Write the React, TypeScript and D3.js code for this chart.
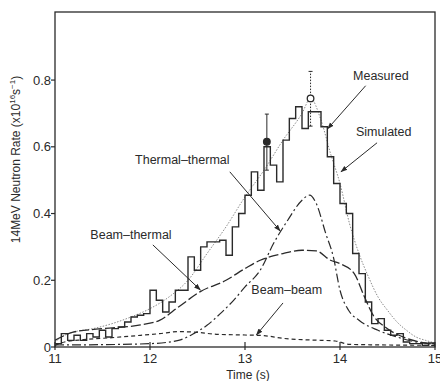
import React from "react";
import * as d3 from "d3";

// ---------- data ----------
const binWidth = 1 / 15;
const measuredValues = [
  0.01, 0.04, 0.02, 0.035, 0.02, 0.04, 0.03, 0.05, 0.03, 0.055,
  0.06, 0.075, 0.09, 0.095, 0.1, 0.17, 0.14, 0.105, 0.135, 0.17,
  0.17, 0.27, 0.23, 0.3, 0.315, 0.315, 0.32, 0.275, 0.36, 0.4,
  0.455, 0.525, 0.47, 0.6, 0.545, 0.495, 0.62, 0.685, 0.72, 0.655,
  0.705, 0.705, 0.66, 0.57, 0.49, 0.43, 0.4, 0.28, 0.22, 0.135,
  0.07, 0.085, 0.05, 0.035, 0.04, 0.015, 0.01, 0.01, 0.005, 0.012,
];

const simT = [11.0, 11.1, 11.2, 11.4, 11.6, 11.8, 12.0, 12.2, 12.4, 12.6, 12.8, 13.0, 13.2, 13.4, 13.6, 13.69, 13.8, 13.9, 14.0, 14.1, 14.2, 14.3, 14.4, 14.5, 14.6, 14.7, 14.8, 14.9, 15.0];
const simV = [0.015, 0.035, 0.045, 0.055, 0.07, 0.09, 0.115, 0.15, 0.2, 0.28, 0.36, 0.45, 0.53, 0.62, 0.7, 0.745, 0.68, 0.58, 0.49, 0.37, 0.28, 0.21, 0.15, 0.11, 0.075, 0.05, 0.03, 0.02, 0.012];

const ttT = [11.0, 11.5, 12.0, 12.3, 12.46, 12.6, 12.74, 12.88, 13.0, 13.16, 13.3, 13.45, 13.6, 13.68, 13.75, 13.85, 13.93, 14.0, 14.09, 14.2, 14.4, 14.6, 14.8, 15.0];
const ttV = [0.006, 0.007, 0.01, 0.02, 0.04, 0.065, 0.1, 0.14, 0.18, 0.23, 0.31, 0.38, 0.44, 0.455, 0.43, 0.34, 0.27, 0.17, 0.11, 0.08, 0.05, 0.03, 0.015, 0.01];

const btT = [11.0, 11.2, 11.5, 11.9, 12.1, 12.3, 12.53, 12.8, 13.0, 13.16, 13.4, 13.6, 13.75, 13.9, 14.0, 14.15, 14.25, 14.35, 14.5, 14.7, 14.9, 15.0];
const btV = [0.02, 0.045, 0.055, 0.066, 0.08, 0.12, 0.166, 0.2, 0.235, 0.26, 0.28, 0.29, 0.288, 0.26, 0.25, 0.22, 0.155, 0.095, 0.055, 0.026, 0.012, 0.008];

const bbT = [11.0, 11.1, 11.3, 11.6, 11.9, 12.1, 12.3, 12.5, 12.7, 13.0, 13.2, 13.4, 13.6, 13.8, 13.95, 14.1, 14.5, 15.0];
const bbV = [0.005, 0.015, 0.022, 0.028, 0.035, 0.04, 0.046, 0.044, 0.038, 0.036, 0.034, 0.026, 0.022, 0.02, 0.018, 0.008, 0.006, 0.005];

const errT = [13.23, 13.69];
const errV = [0.615, 0.745];
const errLo = [0.53, 0.662];
const errHi = [0.698, 0.826];

const xTicks = [11, 12, 13, 14, 15];
const xTickLabels = ["11", "12", "13", "14", "15"];
const yTicks = [0, 0.2, 0.4, 0.6, 0.8];
const yTickLabels = ["0", "0.2", "0.4", "0.6", "0.8"];

const labelText = ["Measured", "Simulated", "Thermal\u2013thermal", "Beam\u2013thermal", "Beam\u2013beam"];
const labelT = [14.43, 14.46, 12.34, 11.8, 13.44];
const labelV = [0.813, 0.645, 0.561, 0.336, 0.171];
const arrowFromT = [14.27, 14.39, 12.84, 12.03, 13.4];
const arrowFromV = [0.783, 0.612, 0.525, 0.306, 0.132];
const arrowToT = [13.87, 14.01, 13.37, 12.53, 13.12];
const arrowToV = [0.654, 0.525, 0.348, 0.171, 0.036];

// ---------- layout ----------
const W = 440;
const H = 381;
const left = 55;
const right = 435;
const top = 12;
const bottom = 347;
const ink = "#2a2a2a";
const font = "'Liberation Sans', Arial, Helvetica, sans-serif";

export default function App() {
  const x = d3.scaleLinear().domain([11, 15]).range([left, right]);
  const y = d3.scaleLinear().domain([0, 1.004]).range([bottom, top]);

  const stepPts: [number, number][] = measuredValues.map((v, i) => [11 + i * binWidth, v]);
  stepPts.push([15, measuredValues[measuredValues.length - 1]]);
  const stepLine = d3
    .line<[number, number]>()
    .x((d) => x(d[0]))
    .y((d) => y(d[1]))
    .curve(d3.curveStepAfter);

  const smooth = (ts: number[], vs: number[]) =>
    d3
      .line<number>()
      .x((_, i) => x(ts[i]))
      .y((v) => y(v))
      .curve(d3.curveMonotoneX)(vs) || "";

  return (
    <svg
      width={W}
      height={H}
      style={{ position: "absolute", left: 0, top: 0, background: "#fff" }}
      fontFamily={font}
    >
      <defs>
        <marker id="arr" viewBox="0 0 10 10" refX="9" refY="5" markerWidth="7" markerHeight="7" orient="auto">
          <path d="M0,1.5 L10,5 L0,8.5 z" fill={ink} />
        </marker>
        <clipPath id="plot">
          <rect x={left} y={top} width={right - left} height={bottom - top} />
        </clipPath>
      </defs>

      {/* curves */}
      <g clipPath="url(#plot)" fill="none">
        <path d={smooth(simT, simV)} stroke="#8a8a8a" strokeWidth={1} strokeDasharray="1.5,1.5" />
        <path d={smooth(ttT, ttV)} stroke={ink} strokeWidth={1.2} strokeDasharray="9,3,2,3" />
        <path d={smooth(btT, btV)} stroke={ink} strokeWidth={1.3} strokeDasharray="10,3" />
        <path d={smooth(bbT, bbV)} stroke={ink} strokeWidth={1.2} strokeDasharray="4,3" />
        <path d={stepLine(stepPts) || ""} stroke={ink} strokeWidth={1.4} />
      </g>

      {/* error bars */}
      {errT.map((t, i) => (
        <g key={"e" + i} stroke={ink} strokeWidth={1}>
          <line
            x1={x(t)}
            x2={x(t)}
            y1={y(errLo[i])}
            y2={y(errHi[i])}
            strokeDasharray={i === 1 ? "1.5,1.5" : undefined}
          />
          <line x1={x(t) - 2} x2={x(t) + 2} y1={y(errHi[i])} y2={y(errHi[i])} />
          <line x1={x(t) - 2} x2={x(t) + 2} y1={y(errLo[i])} y2={y(errLo[i])} />
          <circle
            cx={x(t)}
            cy={y(errV[i])}
            r={3.3}
            fill={i === 0 ? ink : "#fff"}
            strokeWidth={1.3}
          />
        </g>
      ))}

      {/* frame */}
      <rect x={left} y={top} width={right - left} height={bottom - top} fill="none" stroke={ink} strokeWidth={1.3} />

      {/* x ticks */}
      {xTicks.map((t, i) => (
        <g key={"x" + i}>
          <line x1={x(t)} x2={x(t)} y1={bottom - 5} y2={bottom + 3} stroke={ink} strokeWidth={1.2} />
          <text x={x(t)} y={bottom + 16} textAnchor="middle" fontSize={13} fill={ink}>
            {xTickLabels[i]}
          </text>
        </g>
      ))}
      <text x={248} y={379} textAnchor="middle" fontSize={12} fill={ink}>
        Time (s)
      </text>

      {/* y ticks */}
      {yTicks.map((v, i) => (
        <g key={"y" + i}>
          <line x1={left - 4} x2={left} y1={y(v)} y2={y(v)} stroke={ink} strokeWidth={1.2} />
          <text x={left - 4} y={y(v) + 4.5} textAnchor="end" fontSize={13} fill={ink}>
            {yTickLabels[i]}
          </text>
        </g>
      ))}
      <text
        transform={`translate(20,${(top + bottom) / 2 - 20}) rotate(-90)`}
        textAnchor="middle"
        fontSize={12}
        fill={ink}
      >
        14MeV Neutron Rate (x10
        <tspan dy={-5} fontSize={8}>16</tspan>
        <tspan dy={5}>s</tspan>
        <tspan dy={-5} fontSize={8}>{"\u22121"}</tspan>
        <tspan dy={5}>)</tspan>
      </text>

      {/* annotations */}
      {labelText.map((s, i) => (
        <g key={"a" + i}>
          <text x={x(labelT[i])} y={y(labelV[i]) + 4.5} textAnchor="middle" fontSize={12.5} fill={ink}>
            {s}
          </text>
          <line
            x1={x(arrowFromT[i])}
            y1={y(arrowFromV[i])}
            x2={x(arrowToT[i])}
            y2={y(arrowToV[i])}
            stroke={ink}
            strokeWidth={1}
            markerEnd="url(#arr)"
          />
        </g>
      ))}
    </svg>
  );
}
